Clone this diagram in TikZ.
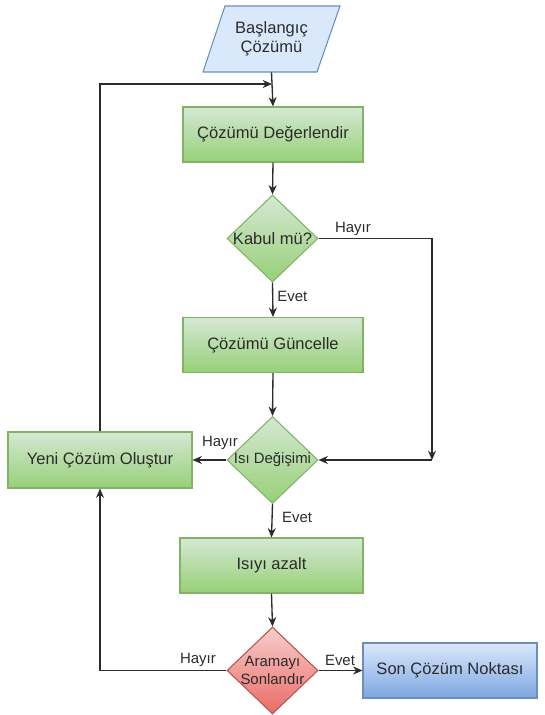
\documentclass[tikz,border=0pt]{standalone}
\usepackage{fontspec}
\setmainfont{Liberation Sans}
\usetikzlibrary{shapes.geometric,arrows.meta}
\definecolor{gtop}{HTML}{D5E8D4}
\definecolor{gbot}{HTML}{97D077}
\definecolor{gline}{HTML}{82B366}
\definecolor{btop}{HTML}{DAE8FC}
\definecolor{bbot}{HTML}{7EA6E0}
\definecolor{bline}{HTML}{6C8EBF}
\definecolor{rtop}{HTML}{F8CECC}
\definecolor{rbot}{HTML}{EA6B66}
\definecolor{rline}{HTML}{B85450}
\definecolor{ink}{HTML}{2B2B2B}
\tikzset{
  boxtxt/.style={font=\fontsize{12.4}{14.5}\selectfont, text=ink, align=center},
  smalltxt/.style={font=\fontsize{11.2}{13}\selectfont, text=ink, align=center},
  gbox/.style={rectangle, draw=gline, top color=gtop, bottom color=gbot, line width=0.8pt,
    minimum width=135pt, minimum height=41.25pt, inner sep=0pt, boxtxt},
  gdia/.style={diamond, draw=gline, top color=gtop, bottom color=gbot, line width=0.8pt,
    minimum width=68.25pt, minimum height=65.25pt, inner sep=0pt},
  rdia/.style={diamond, draw=rline, top color=rtop, bottom color=rbot, line width=0.8pt,
    minimum width=68.25pt, minimum height=65.25pt, inner sep=0pt},
  bbox/.style={rectangle, draw=bline, top color=btop, bottom color=bbot, line width=0.8pt,
    minimum width=130.5pt, minimum height=41.25pt, inner sep=0pt, boxtxt},
  conn/.style={draw=ink, line width=1pt, -{Stealth[length=7pt,width=6pt]}},
  lbl/.style={smalltxt, inner sep=1pt}
}
\begin{document}
\begin{tikzpicture}[x=0.75pt, y=-0.75pt]
\useasboundingbox (0,0) rectangle (544,715);
% start parallelogram
\filldraw[draw=bline, fill=btop, line width=0.8pt] (225,6) -- (340,6) -- (317,72) -- (203,72) -- cycle;
\node[boxtxt, minimum width=80pt, minimum height=49.5pt, inner sep=0pt] (start) at (271.5,39) {Başlangıç\\Çözümü};
% boxes
\node[gbox] (eval) at (273,134.5) {Çözümü Değerlendir};
\node[gdia] (kabul) at (272.5,238.5) {};
\node[boxtxt] at (kabul) {Kabul mü?};
\node[gbox] (guncel) at (273,345) {Çözümü Güncelle};
\node[gdia] (isi) at (272.5,460) {};
\node[smalltxt] at (isi) {Isı Değişimi};
\node[gbox, minimum width=138pt, minimum height=42pt] (yeni) at (100,460) {Yeni Çözüm Oluştur};
\node[gbox, minimum width=137.25pt] (azalt) at (271.5,565.5) {Isıyı azalt};
\node[rdia] (son) at (272.5,670.5) {};
\node[smalltxt] at (son) {Aramayı\\Sonlandır};
\node[bbox] (final) at (450,670.5) {Son Çözüm Noktası};
% coordinates
\coordinate (fb) at (272,84);
\coordinate (rc) at (432,460);
% connectors
\draw[conn] (start.south) -- (eval.north);
\draw[conn] (yeni.north) |- (fb);
\draw[conn] (eval.south) -- (kabul.north);
\draw[conn] (kabul.south) -- node[lbl, right, pos=0.4, xshift=2pt] {Evet} (guncel.north);
\draw[conn] (kabul.east) -| (rc);
\node[lbl] at (353,229) {Hayır};
\draw[conn] (rc) -- (isi.east);
\draw[conn] (guncel.south) -- (isi.north);
\draw[conn] (isi.west) -- (yeni.east);
\node[lbl] at (220,443) {Hayır};
\draw[conn] (isi.south) -- node[lbl, right, pos=0.4, xshift=6pt] {Evet} (azalt.north);
\draw[conn] (azalt.south) -- (son.north);
\draw[conn] (son.west) -| (yeni.south);
\node[lbl] at (198,660) {Hayır};
\draw[conn] (son.east) -- (final.west);
\node[lbl] at (340,660) {Evet};
\end{tikzpicture}
\end{document}
